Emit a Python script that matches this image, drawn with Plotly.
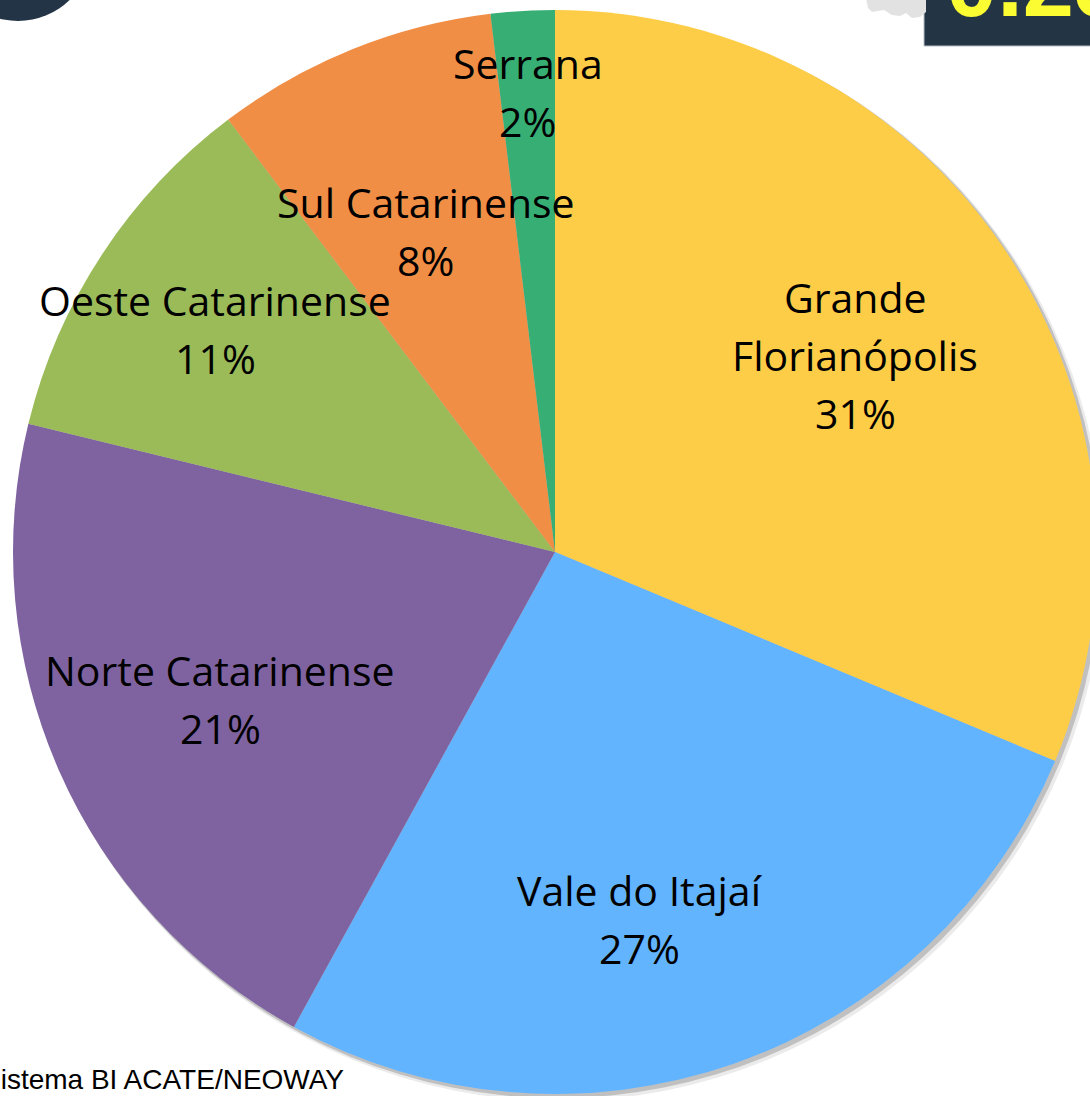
import math
import plotly.graph_objects as go

# ---- data ----
regions = ["Grande<br>Florianópolis", "Vale do Itajaí", "Norte Catarinense",
           "Oeste Catarinense", "Sul Catarinense", "Serrana"]
values = [313, 267, 208, 109, 84, 19]
colors = ["#FECD47", "#62B4FE", "#7F63A1", "#9BBB59", "#F18E45", "#36AE74"]
source_text = "Sistema BI ACATE/NEOWAY"
badge_text = "0.25"

# ---- label placement style (fraction of radius, angle nudge in degrees) ----
label_rfrac = [0.662, 0.695, 0.675, 0.75, 0.638, 0.85]
label_dtheta = [0.4, 6.3, 0, 0, 0, 0]
LINE_PITCH = 58
FONT = "Open Sans"
FSIZE = 41

W, H = 1110, 1096
L, T, R, B = 13, 10, 13, 2
PW, PH = W - L - R, H - T - B


def px(x):
    return (x - L) / PW


def py(y):
    return 1 - (y - T) / PH


fig = go.Figure()
fig.add_trace(go.Pie(
    labels=regions, values=values, sort=False, direction="clockwise",
    rotation=0, marker=dict(colors=colors, line=dict(width=0)),
    textinfo="none", hoverinfo="label+percent", showlegend=False,
))

total = sum(values)
cum = 0
annotations = []
for lab, v, rf, dt in zip(regions, values, label_rfrac, label_dtheta):
    mid = (cum + v / 2) / total
    cum += v
    th = math.radians(mid * 360 + dt)
    x = 0.5 + 0.5 * rf * math.sin(th)
    y = 0.5 + 0.5 * rf * math.cos(th)
    pct = f"{round(100 * v / total)}%"
    lines = lab.split("<br>") + [pct]
    n = len(lines)
    for i, ln in enumerate(lines):
        annotations.append(dict(
            x=x, y=y, xref="paper", yref="paper", text=ln, showarrow=False,
            xanchor="center", yanchor="middle",
            yshift=((n - 1) / 2 - i) * LINE_PITCH,
            font=dict(family=FONT, size=FSIZE, color="#000000"),
        ))

# footer source text (cropped at left edge like the reference)
annotations.append(dict(
    x=px(346), y=py(1079), xref="paper", yref="paper", text=source_text,
    showarrow=False, xanchor="right", yanchor="middle",
    font=dict(family="Liberation Sans, Arial", size=28, color="#000000"),
))
# badge text (cropped at the top)
annotations.append(dict(
    x=px(944), y=py(-16), xref="paper", yref="paper", text=f"<b>{badge_text}</b>",
    showarrow=False, xanchor="left", yanchor="middle",
    font=dict(family="Liberation Sans, Arial", size=92, color="#FCFC33"),
))

shapes = []
# pie shadow
cx, cy, r = 555, 552, 542
for off, extra, op in [(5, 2, 0.08), (3, 1, 0.18)]:
    shapes.append(dict(
        type="circle", xref="paper", yref="paper", layer="below",
        x0=px(cx - r - extra + off), x1=px(cx + r + extra + off),
        y0=py(cy + r + extra + off), y1=py(cy - r - extra + off),
        fillcolor=f"rgba(0,0,0,{op})", line=dict(width=0),
    ))
# top-left dark circle badge
shapes.append(dict(
    type="circle", xref="paper", yref="paper", layer="above",
    x0=px(-56), x1=px(92), y0=py(21), y1=py(-127),
    fillcolor="#233446", line=dict(width=0),
))
# cloud decoration
cloud_pts = [(866, -2), (868, 8), (872, 12), (884, 10), (892, 15), (900, 16),
             (906, 13), (912, 18), (920, 17), (926, 12), (926, -2)]
path = "M " + " L ".join(f"{px(a)},{py(b)}" for a, b in cloud_pts) + " Z"
shapes.append(dict(type="path", xref="paper", yref="paper", path=path,
                   fillcolor="#E2E2E2", line=dict(width=0), layer="above"))
# top-right dark badge
shapes.append(dict(
    type="rect", xref="paper", yref="paper", layer="below",
    x0=px(924), x1=px(1120), y0=py(46), y1=py(-20),
    fillcolor="#233444", line=dict(color="#B8C0C8", width=1),
))

fig.update_layout(
    width=W, height=H, margin=dict(l=L, r=R, t=T, b=B),
    paper_bgcolor="white", plot_bgcolor="white",
    annotations=annotations, shapes=shapes,
)

fig.write_html("out.html", config={"displayModeBar": False},
               post_script="document.body.style.margin='0';document.body.style.overflow='hidden';")
